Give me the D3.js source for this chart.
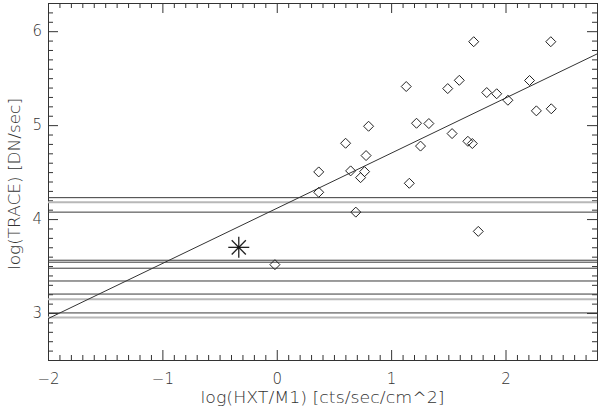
<!DOCTYPE html>
<html>
<head>
<meta charset="utf-8">
<script src="https://cdn.jsdelivr.net/npm/d3@7"></script>
<style>
  body { margin: 0; background: #fff; }
  text { font-family: "DejaVu Sans", sans-serif; fill: #333; }
</style>
</head>
<body>
<div id="chart"></div>
<script>
// Data
const pointsX = [-0.016, 0.367, 0.367, 0.602, 0.646, 0.733, 0.768, 0.781, 0.803, 1.132,
  1.159, 1.222, 1.257, 1.330, 1.495, 1.533, 1.596, 1.671, 1.710, 1.722,
  1.836, 1.923, 2.021, 2.210, 2.270, 2.396, 2.400, 0.691, 1.762];
const pointsY = [3.515, 4.502, 4.285, 4.807, 4.513, 4.441, 4.505, 4.676, 4.988, 5.411,
  4.381, 5.020, 4.777, 5.017, 5.389, 4.910, 5.477, 4.828, 4.804, 5.888,
  5.347, 5.334, 5.265, 5.475, 5.152, 5.888, 5.174, 4.074, 3.869];
const starPoint = [-0.332, 3.699];

// straight fit line
const fitIntercept = 4.114;
const fitSlope = 0.587;

// horizontal levels
const darkLevels = [4.228, 4.074, 3.562, 3.541, 3.477, 3.341, 3.202, 3.001];
const grayLevels = [4.178, 3.147, 2.953];

const xDomain = [-2, 2.8];
const yDomain = [2.5, 6.3];
const xMajor = [-2, -1, 0, 1, 2];
const yMajor = [3, 4, 5, 6];
const xTitle = "log(HXT/M1)  [cts/sec/cm^2]";
const yTitle = "log(TRACE)  [DN/sec]";

// Set margins
const margin = { top: 3, right: 3, bottom: 51, left: 48 };
const width = 600 - margin.left - margin.right;
const height = 411 - margin.top - margin.bottom;

const svg = d3
  .select("#chart")
  .append("svg")
  .attr("width", 600)
  .attr("height", 411)
  .append("g")
  .attr("transform", "translate(" + margin.left + "," + margin.top + ")");

svg.append("defs").append("clipPath").attr("id", "clip")
  .append("rect").attr("width", width).attr("height", height);

const x = d3.scaleLinear().domain(xDomain).range([0, width]);
const y = d3.scaleLinear().domain(yDomain).range([height, 0]);

// minor ticks every 0.1
const xMinor = d3.range(-20, 29).map((d) => d / 10).filter((d) => !xMajor.includes(d));
const yMinor = d3.range(25, 64).map((d) => d / 10).filter((d) => !yMajor.includes(d));

function styleAxis(g) {
  g.selectAll("path").attr("stroke", "#333");
  g.selectAll("line").attr("stroke", "#333");
  g.selectAll("text").attr("fill", "#444").style("font-size", "15px")
    .style("font-family", "DejaVu Sans, sans-serif").style("font-weight", "200");
}

// major axes (ticks point inward)
svg.append("g").attr("transform", `translate(0,${height})`)
  .call(d3.axisBottom(x).tickValues(xMajor).tickSizeInner(-10).tickSizeOuter(0).tickPadding(13)
    .tickFormat(d3.format("d")))
  .call(styleAxis);
svg.append("g")
  .call(d3.axisTop(x).tickValues(xMajor).tickSizeInner(-10).tickSizeOuter(0).tickFormat(""))
  .call(styleAxis);
svg.append("g")
  .call(d3.axisLeft(y).tickValues(yMajor).tickSizeInner(-10).tickSizeOuter(0).tickPadding(6)
    .tickFormat(d3.format("d")))
  .call(styleAxis);
svg.append("g").attr("transform", `translate(${width},0)`)
  .call(d3.axisRight(y).tickValues(yMajor).tickSizeInner(-10).tickSizeOuter(0).tickFormat(""))
  .call(styleAxis);

// minor ticks
svg.append("g").attr("transform", `translate(0,${height})`)
  .call(d3.axisBottom(x).tickValues(xMinor).tickSizeInner(-5).tickSizeOuter(0).tickFormat(""))
  .call(styleAxis);
svg.append("g")
  .call(d3.axisTop(x).tickValues(xMinor).tickSizeInner(-5).tickSizeOuter(0).tickFormat(""))
  .call(styleAxis);
svg.append("g")
  .call(d3.axisLeft(y).tickValues(yMinor).tickSizeInner(-5).tickSizeOuter(0).tickFormat(""))
  .call(styleAxis);
svg.append("g").attr("transform", `translate(${width},0)`)
  .call(d3.axisRight(y).tickValues(yMinor).tickSizeInner(-5).tickSizeOuter(0).tickFormat(""))
  .call(styleAxis);

// horizontal levels
const levels = svg.append("g").attr("clip-path", "url(#clip)");
levels.selectAll(".gray").data(grayLevels).enter().append("line")
  .attr("class", "gray")
  .attr("x1", 0).attr("x2", width)
  .attr("y1", (d) => y(d)).attr("y2", (d) => y(d))
  .attr("stroke", "#b8b8b8").attr("stroke-width", 2);
levels.selectAll(".dark").data(darkLevels).enter().append("line")
  .attr("class", "dark")
  .attr("x1", 0).attr("x2", width)
  .attr("y1", (d) => y(d)).attr("y2", (d) => y(d))
  .attr("stroke", "#3a3a3a").attr("stroke-width", 1);

// fit line
svg.append("line").attr("clip-path", "url(#clip)")
  .attr("x1", x(xDomain[0])).attr("y1", y(fitIntercept + fitSlope * xDomain[0]))
  .attr("x2", x(xDomain[1])).attr("y2", y(fitIntercept + fitSlope * xDomain[1]))
  .attr("stroke", "#333").attr("stroke-width", 1);

// diamonds
const diamond = "M0,-5L5,0L0,5L-5,0Z";
svg.append("g").selectAll("path")
  .data(pointsX.map((d, i) => [d, pointsY[i]]))
  .enter().append("path")
  .attr("d", diamond)
  .attr("transform", (d) => `translate(${x(d[0])},${y(d[1])})`)
  .attr("fill", "none").attr("stroke", "#222").attr("stroke-width", 1);

// asterisk
const star = svg.append("g")
  .attr("transform", `translate(${x(starPoint[0])},${y(starPoint[1])})`);
[0, 45, 90, 135].forEach((a) => {
  const r = a === 0 || a === 90 ? 10.5 : 10;
  const dx = r * Math.cos((a * Math.PI) / 180);
  const dy = r * Math.sin((a * Math.PI) / 180);
  star.append("line")
    .attr("x1", -dx).attr("y1", -dy).attr("x2", dx).attr("y2", dy)
    .attr("stroke", "#222").attr("stroke-width", 1.3);
});
star.append("circle").attr("r", 1.5).attr("fill", "#111");

// titles
svg.append("text")
  .attr("x", width / 2).attr("y", height + 43)
  .attr("text-anchor", "middle")
  .attr("textLength", 244).attr("lengthAdjust", "spacingAndGlyphs")
  .style("font-size", "15px").style("font-weight", "200").attr("fill", "#444")
  .text(xTitle);

svg.append("text")
  .attr("transform", `translate(${20 - margin.left},${184 - margin.top}) rotate(-90)`)
  .attr("text-anchor", "middle")
  .attr("textLength", 172).attr("lengthAdjust", "spacingAndGlyphs")
  .style("font-size", "15px").style("font-weight", "200").attr("fill", "#444")
  .text(yTitle);
</script>
</body>
</html>
